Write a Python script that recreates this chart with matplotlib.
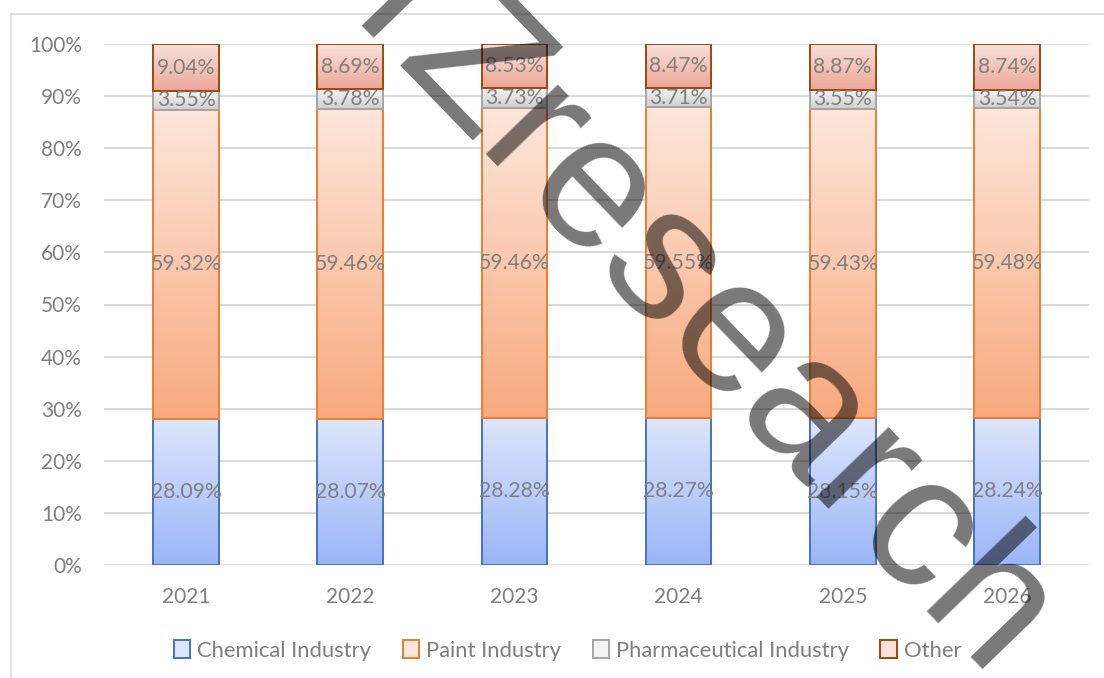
import numpy as np
import matplotlib
matplotlib.use("Agg")
import matplotlib.pyplot as plt
from matplotlib.colors import LinearSegmentedColormap
from matplotlib.patches import Patch
from matplotlib.lines import Line2D

years = ['2021', '2022', '2023', '2024', '2025', '2026']
chemical = [28.09, 28.07, 28.28, 28.27, 28.15, 28.24]
paint = [59.32, 59.46, 59.46, 59.55, 59.43, 59.48]
pharma = [3.55, 3.78, 3.73, 3.71, 3.55, 3.54]
other = [9.04, 8.69, 8.53, 8.47, 8.87, 8.74]

series_names = ['Chemical Industry', 'Paint Industry', 'Pharmaceutical Industry', 'Other']
series_values = [chemical, paint, pharma, other]
# (edge, bottom of gradient, top of gradient)
series_colors = [
    ('#4472C4', '#9BB5F7', '#DDE6FB'),
    ('#ED7D31', '#F8AA7E', '#FDE6DB'),
    ('#A5A5A5', '#CFCFCF', '#F4F4F4'),
    ('#9E480E', '#ECA796', '#F9E2DE'),
]

font = 'Lato'
txt_color = '#7F7F7F'

fig = plt.figure(figsize=(11.04, 6.78), dpi=100)
ax = fig.add_axes([104 / 1104, 113 / 678, 985 / 1104, 521 / 678])

x = np.arange(len(years))
width = 0.4
bottom = np.zeros(len(years))
grad = np.linspace(0, 1, 128).reshape(-1, 1)

for name, vals, (edge, c_lo, c_hi) in zip(series_names, series_values, series_colors):
    vals = np.array(vals)
    bars = ax.bar(x, vals, width, bottom=bottom, facecolor='none',
                  edgecolor=edge, linewidth=1.4, zorder=3)
    cmap = LinearSegmentedColormap.from_list(name, [c_lo, c_hi])
    for p in bars.patches:
        ax.imshow(grad, extent=(p.get_x(), p.get_x() + p.get_width(),
                                p.get_y(), p.get_y() + p.get_height()),
                  origin='lower', aspect='auto', cmap=cmap, zorder=2)
    ax.bar_label(bars, labels=[f'{v:.2f}%' for v in vals], label_type='center',
                 color=txt_color, fontsize=15.2, family=font, zorder=4)
    bottom += vals

ax.set_xlim(-0.5, len(years) - 0.5)
ax.set_ylim(0, 100)
ax.set_xticks(x)
ax.set_xticklabels(years)
ax.set_yticks(range(0, 101, 10))
ax.set_yticklabels([f'{t}%' for t in range(0, 101, 10)])
ax.tick_params(length=0, labelsize=15, labelcolor=txt_color, pad=16)
for lab in ax.get_xticklabels() + ax.get_yticklabels():
    lab.set_family(font)

ax.grid(axis='y', color='#D9D9D9', linewidth=1.4, zorder=0)
ax.set_axisbelow(True)
for s in ax.spines.values():
    s.set_visible(False)

# chart area border (only left and top edges fall inside the crop)
fig.add_artist(Line2D([11 / 1104, 11 / 1104], [0, 1 - 14 / 678], color='#D9D9D9',
                      linewidth=1.2, transform=fig.transFigure))
fig.add_artist(Line2D([11 / 1104, 1], [1 - 14 / 678, 1 - 14 / 678], color='#D9D9D9',
                      linewidth=1.2, transform=fig.transFigure))

handles = [Patch(facecolor=c_hi, edgecolor=edge, linewidth=1.4)
           for edge, c_lo, c_hi in series_colors]
fig.legend(handles, series_names, loc='center', bbox_to_anchor=(0.514, 0.041),
           ncol=4, frameon=False, prop={'family': font, 'size': 15.8},
           labelcolor=txt_color, handlelength=0.75, handleheight=0.9,
           handletextpad=0.3, columnspacing=1.45)

# watermark
fig.text(0.604, 0.476, 'rZresearch', rotation=-46, rotation_mode='anchor',
         ha='center', va='baseline', fontsize=137, family='Liberation Sans',
         color='black', alpha=0.53, zorder=10)

fig.savefig('out.png', dpi=100)
